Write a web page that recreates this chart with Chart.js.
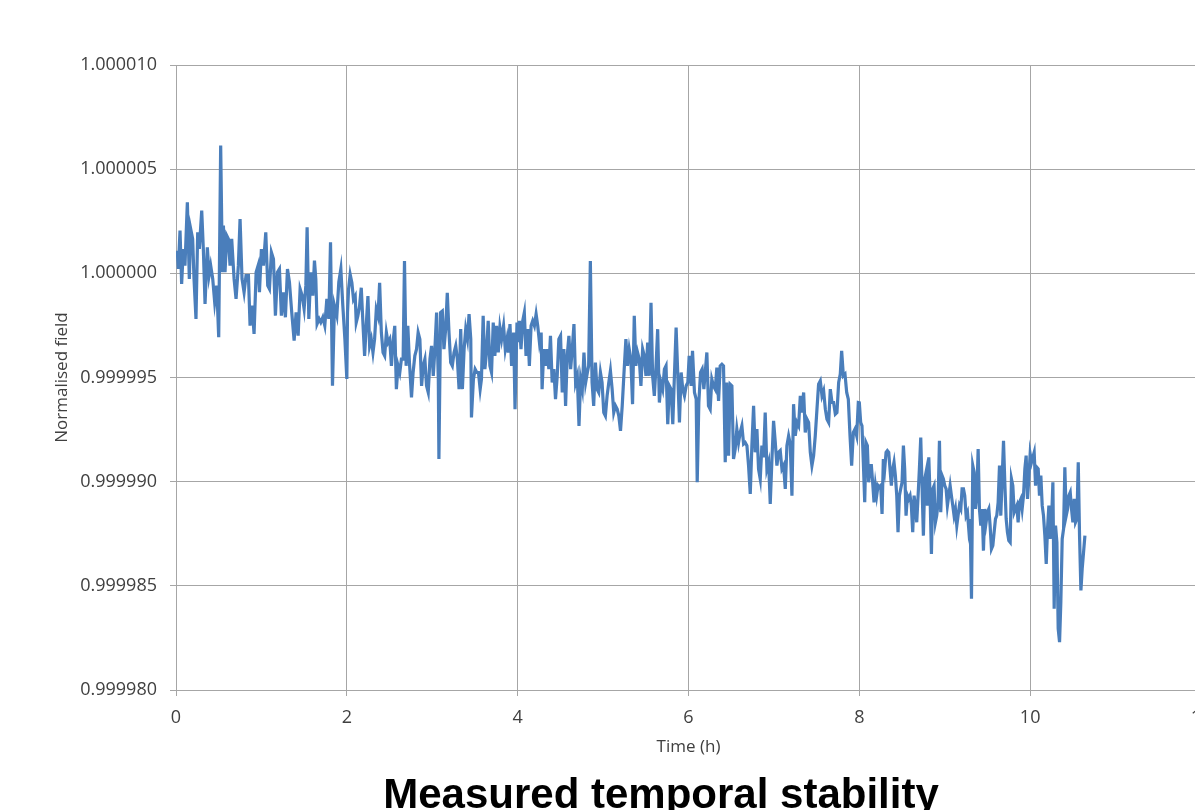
<!DOCTYPE html>
<html>
<head>
<meta charset="utf-8">
<title>Measured temporal stability</title>
<script src="https://cdn.jsdelivr.net/npm/chart.js@4.4.0/dist/chart.umd.min.js"></script>
<style>
  html, body { margin: 0; padding: 0; background: #fff; overflow: hidden; }
  #frame { width: 1195px; height: 810px; overflow: hidden; }
  canvas { display: block; }
</style>
</head>
<body>
<div id="frame"><canvas id="stability" width="1322" height="830"></canvas></div>
<script>
// sample times, hours
var timeH = [
  0, 0.016, 0.027, 0.047, 0.066, 0.086, 0.105, 0.133, 0.156, 0.172,
  0.195, 0.211, 0.234, 0.254, 0.273, 0.301, 0.320, 0.340, 0.367, 0.387,
  0.406, 0.430, 0.453, 0.477, 0.500, 0.523, 0.543, 0.555, 0.574, 0.594,
  0.613, 0.633, 0.652, 0.680, 0.703, 0.730, 0.750, 0.773, 0.797, 0.820,
  0.848, 0.867, 0.891, 0.914, 0.938, 0.961, 0.977, 1.000, 1.023, 1.051,
  1.074, 1.094, 1.117, 1.141, 1.164, 1.188, 1.211, 1.234, 1.258, 1.281,
  1.305, 1.328, 1.355, 1.383, 1.406, 1.430, 1.453, 1.477, 1.500, 1.520,
  1.535, 1.555, 1.578, 1.602, 1.621, 1.637, 1.652, 1.676, 1.695, 1.719,
  1.742, 1.766, 1.789, 1.809, 1.832, 1.855, 1.883, 1.906, 1.930, 1.953,
  1.977, 2.000,
  2.008, 2.020, 2.039, 2.059, 2.078, 2.098, 2.110, 2.129, 2.149, 2.169,
  2.188, 2.208, 2.227, 2.247, 2.267, 2.286, 2.306, 2.325, 2.345, 2.365,
  2.384, 2.404, 2.424, 2.443, 2.463, 2.482, 2.502, 2.522, 2.541, 2.561,
  2.580, 2.600, 2.620, 2.639, 2.659, 2.675, 2.694, 2.714, 2.733, 2.757,
  2.776, 2.796, 2.816, 2.835, 2.855, 2.875, 2.894, 2.914, 2.933, 2.953,
  2.973, 2.992, 3.012, 3.031, 3.051, 3.071, 3.078, 3.098, 3.118, 3.137,
  3.157, 3.176, 3.196, 3.216, 3.235, 3.255, 3.275, 3.294, 3.314, 3.333,
  3.353, 3.373, 3.392, 3.412, 3.431, 3.451, 3.459, 3.482, 3.502, 3.522,
  3.541, 3.561, 3.576, 3.596, 3.616, 3.635, 3.655, 3.675, 3.694, 3.714,
  3.733, 3.753, 3.773, 3.792, 3.812, 3.835, 3.855, 3.875, 3.890, 3.910,
  3.929, 3.953, 3.969, 3.992,
  4.000, 4.020, 4.039, 4.059, 4.078, 4.098, 4.118, 4.137, 4.157, 4.176,
  4.196, 4.216, 4.235, 4.255, 4.275, 4.286, 4.306, 4.325, 4.345, 4.365,
  4.384, 4.404, 4.424, 4.443, 4.463, 4.482, 4.502, 4.522, 4.541, 4.561,
  4.580, 4.600, 4.620, 4.639, 4.659, 4.678, 4.698, 4.718, 4.737, 4.757,
  4.776, 4.796, 4.816, 4.831, 4.851, 4.871, 4.890, 4.910, 4.929, 4.949,
  4.969, 4.988, 5.008, 5.027, 5.047, 5.067, 5.086, 5.106, 5.125, 5.145,
  5.165, 5.184, 5.204, 5.224, 5.243, 5.267, 5.286, 5.306, 5.325, 5.345,
  5.365, 5.384, 5.404, 5.424, 5.443, 5.463, 5.482, 5.502, 5.522, 5.541,
  5.561, 5.580, 5.600, 5.620, 5.639, 5.659, 5.678, 5.698, 5.718, 5.737,
  5.757, 5.776, 5.796, 5.816, 5.835, 5.855, 5.875, 5.894, 5.914, 5.933,
  5.953, 5.973, 5.992, 6.008,
  6.012, 6.031, 6.047, 6.070, 6.090, 6.102, 6.121, 6.141, 6.160, 6.180,
  6.199, 6.215, 6.234, 6.254, 6.273, 6.293, 6.313, 6.332, 6.352, 6.371,
  6.391, 6.410, 6.430, 6.449, 6.469, 6.488, 6.508, 6.527, 6.547, 6.566,
  6.586, 6.605, 6.625, 6.645, 6.664, 6.684, 6.703, 6.723, 6.742, 6.762,
  6.781, 6.801, 6.820, 6.840, 6.859, 6.879, 6.898, 6.918, 6.938, 6.957,
  6.977, 6.996, 7.016, 7.035, 7.055, 7.074, 7.094, 7.113, 7.133, 7.152,
  7.172, 7.191, 7.211, 7.230, 7.250, 7.270, 7.289, 7.309, 7.328, 7.348,
  7.367, 7.387, 7.406, 7.426, 7.445, 7.465, 7.484, 7.504, 7.523, 7.543,
  7.563, 7.582, 7.602, 7.621, 7.641, 7.660, 7.680, 7.699, 7.719, 7.738,
  7.758, 7.777, 7.793, 7.813, 7.832, 7.852, 7.871, 7.891, 7.910, 7.930,
  7.949, 7.969, 7.988,
  8.000, 8.016, 8.031, 8.047, 8.063, 8.078, 8.094, 8.109, 8.125, 8.141,
  8.156, 8.172, 8.188, 8.203, 8.219, 8.234, 8.250, 8.266, 8.281, 8.297,
  8.313, 8.328, 8.344, 8.359, 8.375, 8.391, 8.406, 8.422, 8.438, 8.453,
  8.469, 8.484, 8.500, 8.516, 8.531, 8.547, 8.563, 8.578, 8.594, 8.609,
  8.625, 8.641, 8.656, 8.672, 8.688, 8.703, 8.719, 8.734, 8.750, 8.766,
  8.781, 8.797, 8.813, 8.828, 8.844, 8.859, 8.875, 8.891, 8.906, 8.922,
  8.938, 8.953, 8.969, 8.984, 9.000, 9.016, 9.031, 9.047, 9.063, 9.078,
  9.094, 9.109, 9.125, 9.141, 9.156, 9.172, 9.188, 9.203, 9.219, 9.234,
  9.250, 9.266, 9.281, 9.297, 9.313, 9.328, 9.344, 9.359, 9.375, 9.391,
  9.406, 9.422, 9.438, 9.453, 9.469, 9.484, 9.500, 9.516, 9.531, 9.547,
  9.563, 9.578, 9.594, 9.609, 9.625, 9.641, 9.656, 9.672, 9.688, 9.703,
  9.719, 9.734, 9.750, 9.766, 9.781, 9.797, 9.813, 9.828, 9.844, 9.859,
  9.875, 9.891, 9.906, 9.922, 9.938, 9.953, 9.969, 9.984, 10.000, 10.016,
  10.031, 10.047, 10.063, 10.078, 10.094, 10.109, 10.125, 10.141, 10.156, 10.172,
  10.188, 10.203, 10.219, 10.234, 10.250, 10.266, 10.281, 10.297, 10.313, 10.328,
  10.344, 10.359, 10.375, 10.391, 10.406, 10.422, 10.438, 10.453, 10.469, 10.484,
  10.500, 10.516, 10.531, 10.547, 10.563, 10.578, 10.594, 10.609, 10.625, 10.641
];

// normalised field minus 1, in parts per million
var deviationPpm = [
  1.01, 1.01, 0.21, 2.05, -0.51, 1.17, 0.37, 3.41, -0.27, 2.13,
  1.65, -0.27, -2.19, 1.97, 1.17, 3.01, 1.17, -1.47, 1.25, -0.11,
  0.37, -0.27, -1.39, -0.59, -3.07, 6.13, 0.05, 2.29, 0.05, 1.81,
  1.65, 0.37, 1.65, -0.27, -1.23, 0.37, 2.61, -0.27, -0.91, -0.11,
  -0.11, -2.51, -1.55, -2.91, 0.05, 0.37, -0.91, 1.17, 0.37, 1.97,
  -0.59, -0.75, 1.01, 0.69, -2.03, 0.05, 0.21, -2.03, -0.91, -2.11,
  0.21, -0.43, -1.87, -3.23, -1.87, -2.99, -0.75, -1.07, -1.71, -0.59,
  2.21, -2.19, 0.05, -1.07, 0.61, -0.27, -2.43, -2.19, -2.35, -2.11,
  -2.51, -1.23, -2.19, 1.49, -5.39, -1.55, -2.03, -0.43, 0.21, -1.55,
  -3.15, -5.07,
  -1.88, -0.77, -0.05, -0.45, -1.25, -1.09, -2.36, -2.04, -1.57, -0.69,
  -2.36, -3.96, -2.52, -1.09, -3.48, -3.16, -3.80, -3.16, -1.73, -2.04,
  -0.45, -2.84, -3.80, -3.96, -2.84, -3.32, -3.16, -4.44, -3.32, -2.52,
  -5.56, -4.44, -4.76, -4.12, -4.12, 0.59, -4.44, -2.52, -4.28, -5.96,
  -4.76, -3.96, -3.64, -2.84, -3.16, -5.40, -4.44, -4.12, -5.40, -5.72,
  -4.12, -3.48, -4.92, -3.64, -1.88, -5.08, -8.91, -1.88, -1.81, -3.64,
  -2.68, -0.93, -2.84, -4.28, -4.44, -3.80, -3.48, -4.12, -5.56, -2.68,
  -5.56, -3.64, -2.68, -3.16, -1.96, -3.16, -6.92, -5.08, -4.60, -4.76,
  -4.76, -5.56, -5.08, -2.04, -4.60, -3.80, -2.28, -4.44, -4.76, -2.36,
  -3.96, -2.52, -3.80, -2.60, -3.16, -2.52, -3.64, -3.16, -3.80, -2.44,
  -4.44, -2.84, -6.52, -2.36,
  -3.30, -2.28, -3.64, -2.28, -1.88, -3.96, -2.68, -4.44, -2.52, -2.28,
  -2.52, -1.96, -2.52, -3.32, -2.84, -5.56, -3.64, -4.44, -3.64, -4.60,
  -3.00, -5.24, -4.60, -6.04, -4.92, -3.16, -3.00, -5.72, -3.64, -6.36,
  -3.96, -3.00, -4.60, -3.64, -2.44, -5.24, -4.92, -7.32, -5.08, -5.56,
  -3.80, -5.24, -4.76, -4.44, 0.59, -5.24, -6.36, -4.28, -5.56, -5.72,
  -4.76, -5.24, -6.68, -6.84, -5.88, -5.24, -4.68, -5.56, -6.68, -6.36,
  -6.52, -6.84, -7.56, -6.36, -4.92, -3.16, -4.44, -3.64, -4.12, -6.28,
  -2.04, -4.44, -3.80, -4.12, -5.40, -3.64, -3.96, -4.92, -3.32, -4.92,
  -1.41, -4.92, -5.88, -4.44, -2.68, -6.20, -5.24, -5.56, -4.60, -4.44,
  -7.24, -5.40, -5.56, -7.24, -4.92, -2.60, -4.92, -7.16, -4.76, -5.56,
  -5.88, -5.40, -5.24, -3.96,
  -4.28, -5.40, -3.72, -5.72, -6.04, -10.03, -6.20, -4.76, -4.60, -5.56,
  -4.60, -3.80, -6.36, -6.52, -5.08, -5.40, -5.56, -4.52, -6.12, -4.44,
  -4.36, -4.44, -9.07, -5.24, -8.75, -5.32, -5.40, -8.91, -8.43, -7.48,
  -8.12, -7.64, -7.32, -8.19, -8.12, -8.27, -9.23, -10.59, -8.27, -6.36,
  -8.59, -7.48, -9.39, -9.87, -8.27, -8.83, -6.68, -9.39, -9.07, -11.07,
  -8.91, -7.08, -8.12, -9.23, -8.59, -8.51, -9.39, -9.23, -10.35, -8.27,
  -7.80, -8.19, -10.67, -6.28, -7.80, -7.16, -7.32, -5.88, -6.68, -5.72,
  -7.64, -7.00, -7.16, -8.59, -9.23, -8.75, -7.80, -6.52, -5.32, -5.16,
  -5.88, -5.64, -6.52, -7.00, -7.16, -5.56, -6.20, -6.20, -6.76, -6.68,
  -5.24, -4.84, -3.72, -4.92, -4.84, -5.72, -6.04, -7.80, -9.23, -7.64,
  -7.48, -7.80, -6.20,
  -6.21, -7.16, -7.32, -9.07, -10.99, -8.12, -8.27, -10.03, -9.23, -9.23,
  -10.03, -10.99, -10.19, -10.67, -10.19, -10.27, -10.19, -11.55, -8.91, -9.39,
  -8.59, -8.51, -8.59, -9.39, -10.19, -9.39, -9.07, -9.71, -10.67, -12.43,
  -10.67, -10.35, -10.03, -8.27, -9.39, -11.63, -10.67, -10.83, -10.67, -11.15,
  -12.43, -10.67, -11.15, -11.95, -10.67, -9.39, -7.88, -10.19, -12.59, -9.87,
  -9.55, -11.15, -8.83, -10.67, -13.47, -10.35, -10.19, -11.95, -11.63, -10.99,
  -8.04, -11.47, -9.71, -9.87, -10.19, -10.35, -11.15, -10.67, -10.19, -10.67,
  -11.15, -11.63, -11.31, -12.11, -11.63, -11.15, -11.31, -10.35, -10.35, -10.67,
  -11.63, -11.47, -12.27, -11.79, -15.62, -9.23, -9.55, -11.31, -10.67, -8.43,
  -11.31, -12.11, -11.31, -13.31, -11.31, -11.95, -11.47, -11.31, -12.11, -13.23,
  -13.07, -12.43, -11.79, -11.63, -10.99, -9.23, -11.63, -9.87, -8.04, -10.03,
  -11.79, -12.43, -12.83, -12.91, -9.87, -10.19, -11.47, -11.31, -11.15, -11.95,
  -10.99, -10.83, -11.31, -10.67, -9.39, -8.75, -10.83, -9.87, -8.67, -9.07,
  -8.83, -8.59, -10.19, -9.31, -9.39, -10.67, -9.71, -11.15, -11.63, -12.59,
  -13.95, -12.27, -11.15, -12.75, -11.95, -10.03, -16.10, -12.11, -12.91, -17.06,
  -17.70, -15.78, -12.75, -12.27, -9.31, -11.63, -11.31, -10.67, -10.51, -11.31,
  -11.95, -10.83, -11.95, -11.79, -9.07, -12.59, -15.22, -14.19, -13.39, -12.59
];

var xMin = 0, xMax = 12, xStep = 2;
var yMin = 0.99998, yMax = 1.00001, yStep = 0.000005;

var gridColor = '#a6a6a6';
var labelColor = '#404040';
var labelFont = { family: "'Open Sans', sans-serif", size: 18 };
var axisTitleFont = { family: "'Open Sans', sans-serif", size: 17 };

var points = timeH.map(function (t, i) {
  return { x: t, y: 1 + deviationPpm[i] * 1e-6 };
});

var ctx = document.getElementById('stability').getContext('2d');
var chart = new Chart(ctx, {
  type: 'line',
  data: {
    datasets: [{
      label: 'Normalised field',
      data: points,
      borderColor: '#4a7ebb',
      borderWidth: 3.2,
      pointRadius: 0,
      tension: 0,
      fill: false
    }]
  },
  options: {
    responsive: false,
    animation: false,
    layout: { padding: { top: 65, left: 0, right: 0, bottom: 8.8 } },
    plugins: {
      legend: { display: false },
      tooltip: { enabled: false },
      title: {
        display: true,
        text: 'Measured temporal stability',
        position: 'bottom',
        color: '#000',
        font: { family: "'Liberation Sans', Arial, sans-serif", size: 42, weight: 'bold' },
        padding: { top: 13.8, bottom: 0 }
      }
    },
    scales: {
      x: {
        type: 'linear',
        min: xMin,
        max: xMax,
        ticks: { stepSize: xStep, padding: 11, color: labelColor, font: labelFont },
        grid: { color: gridColor, tickLength: 6 },
        border: { color: gridColor },
        title: { display: true, text: 'Time (h)', color: labelColor, font: axisTitleFont, padding: 0 },
        afterFit: function (s) { s.height = 67; }
      },
      y: {
        type: 'linear',
        min: yMin,
        max: yMax,
        ticks: {
          stepSize: yStep,
          padding: 13,
          color: labelColor,
          font: labelFont,
          callback: function (v) { return v.toFixed(6); }
        },
        grid: { color: gridColor, tickLength: 6 },
        border: { color: gridColor },
        title: { display: true, text: 'Normalised field', color: labelColor, font: axisTitleFont, padding: { top: 52, bottom: 0 } },
        afterFit: function (s) { s.width = 176; }
      },
      // empty box on the right so the bottom title sits where the original has it
      pad: {
        type: 'linear',
        position: 'right',
        grid: { display: false },
        ticks: { display: false },
        border: { display: false },
        afterFit: function (s) { s.width = 121; }
      }
    }
  }
});
</script>
</body>
</html>
